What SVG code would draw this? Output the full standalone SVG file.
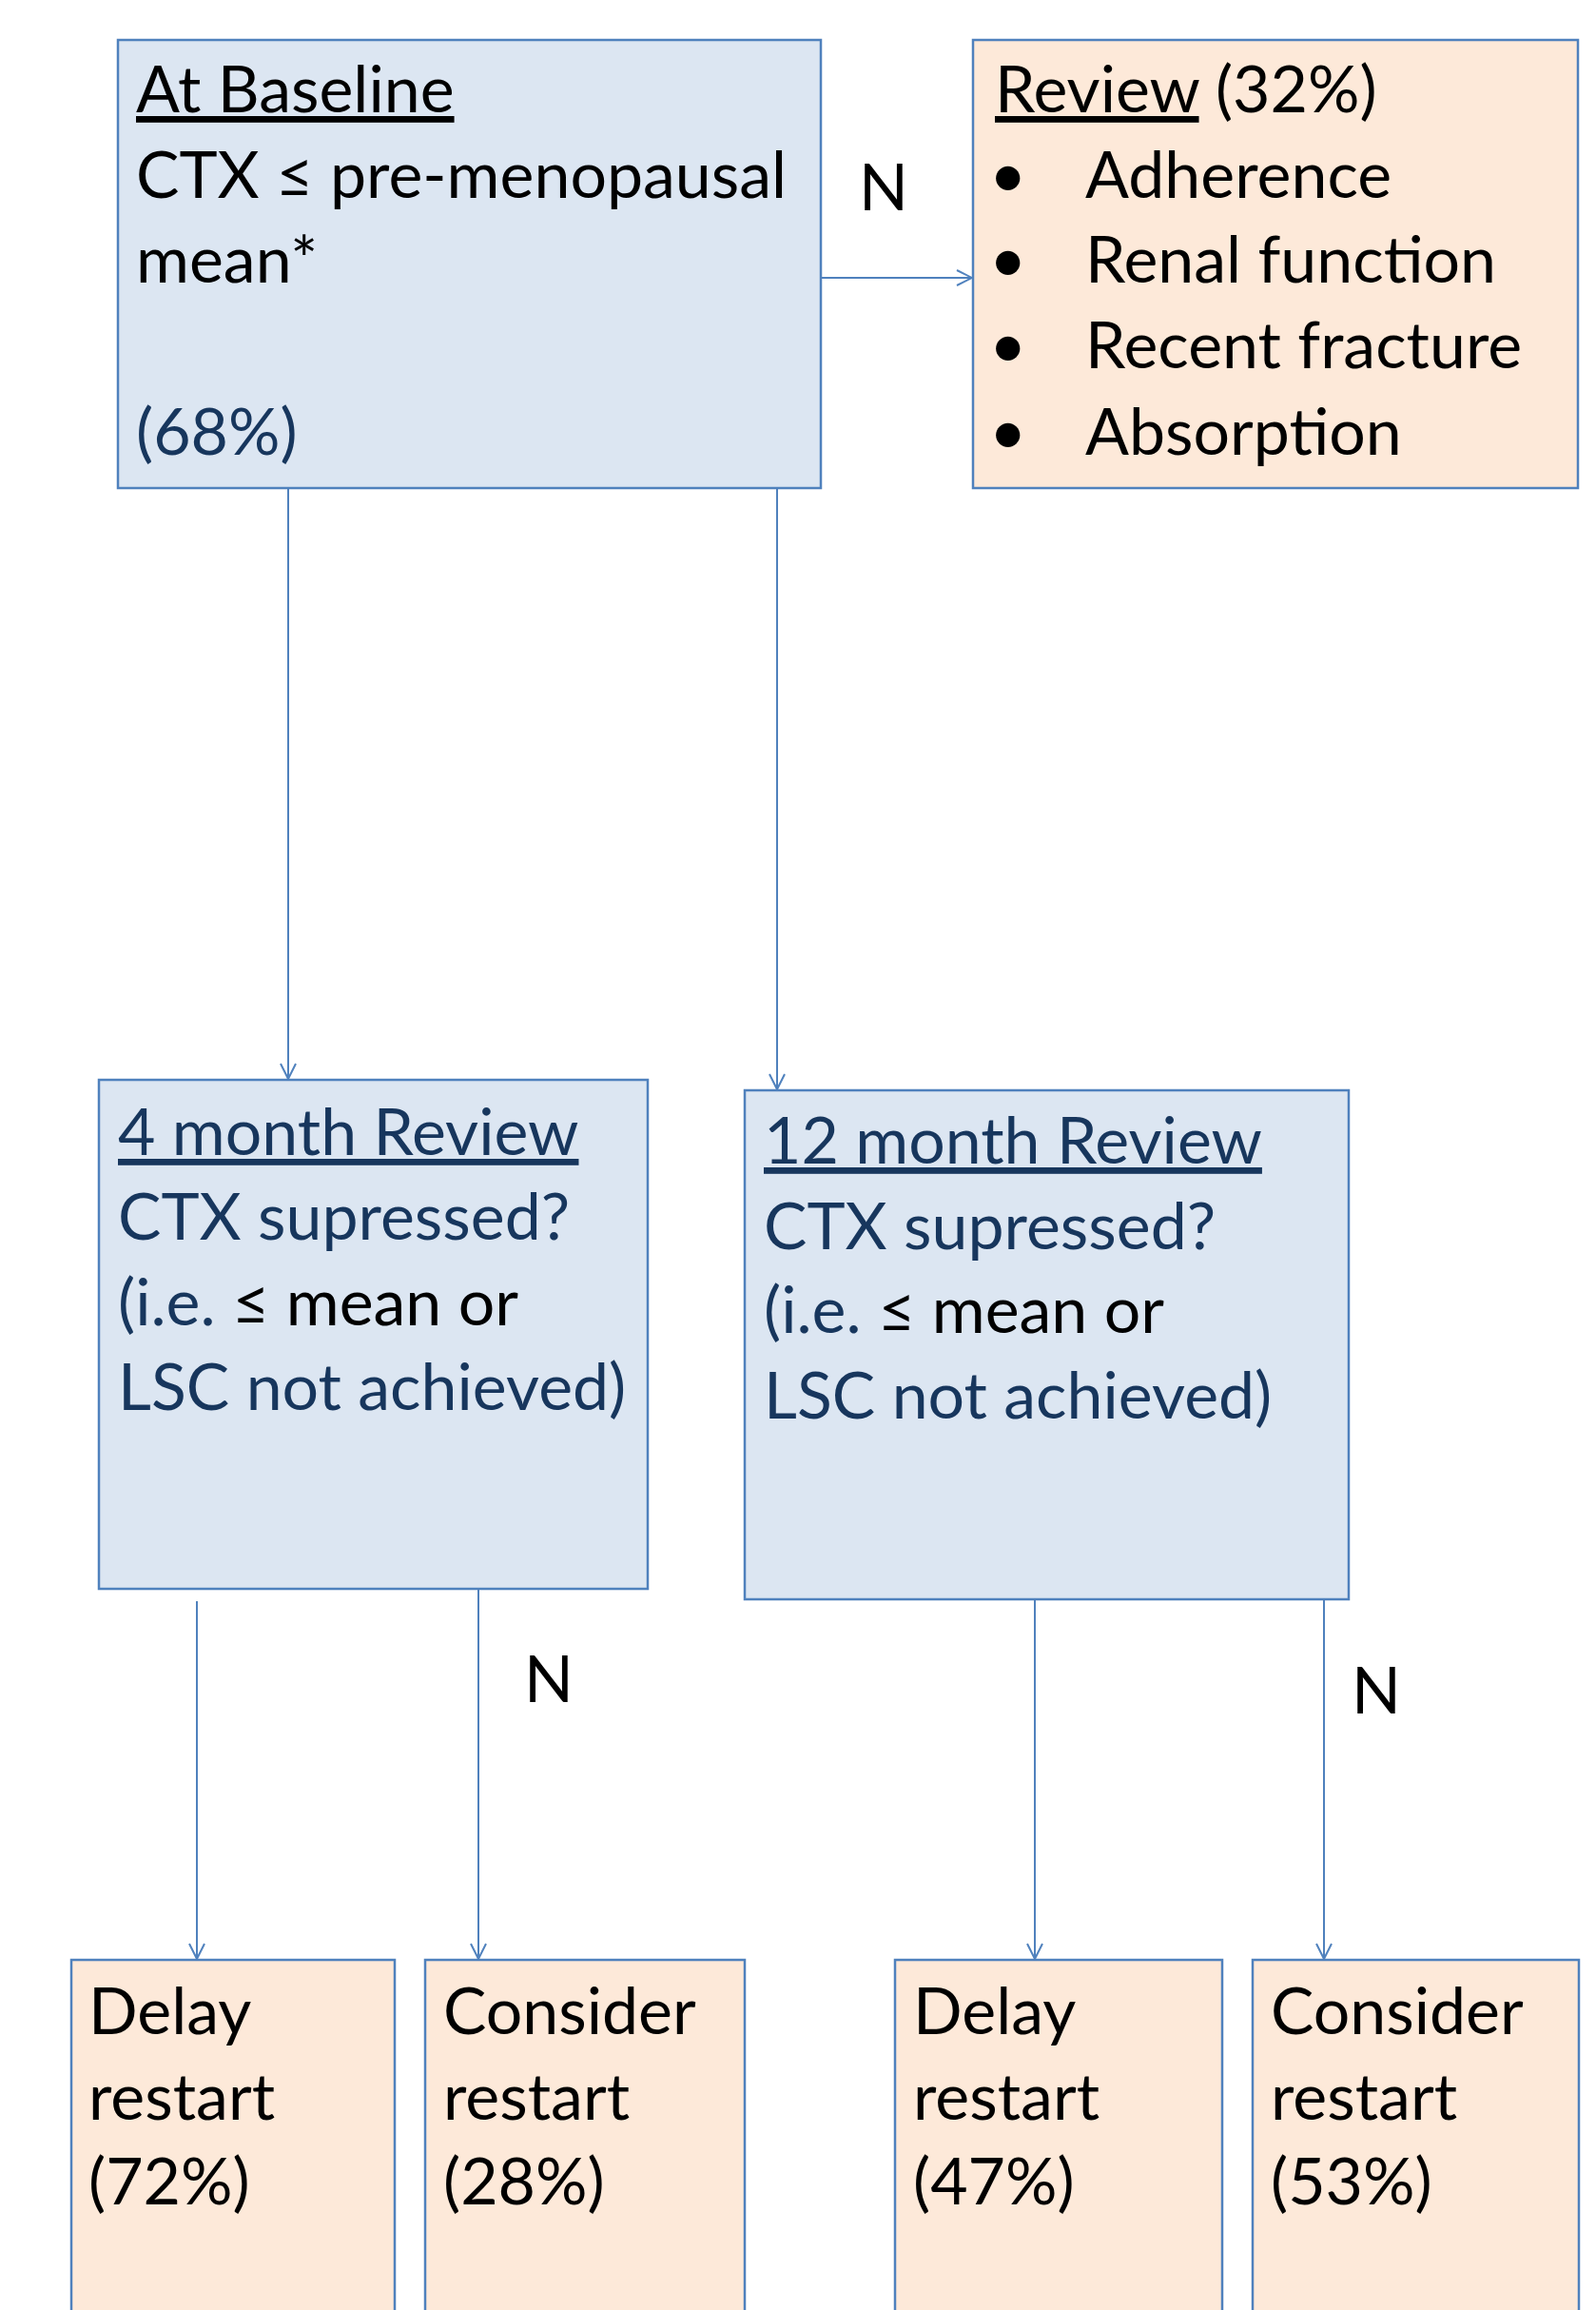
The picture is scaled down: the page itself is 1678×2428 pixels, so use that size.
<svg xmlns="http://www.w3.org/2000/svg" width="1678" height="2428" viewBox="0 0 1678 2428">
<style>
.blue{fill:#DCE6F2;stroke:#4F81BD;stroke-width:2.5}
.peach{fill:#FDE9D9;stroke:#4F81BD;stroke-width:2.5}
text{font-family:Lato,"Open Sans",sans-serif;font-size:68px;fill:#000}
.navy{fill:#17365D}
.u{text-decoration:underline}
.lbl{text-anchor:middle}
.conn line{stroke:#4F81BD;stroke-width:2}
</style>
<defs>
<marker id="arr" viewBox="0 0 18 18" refX="17" refY="9" markerWidth="18" markerHeight="18" markerUnits="userSpaceOnUse" orient="auto">
<path d="M1,1 L17,9 L1,17" fill="none" stroke="#4F81BD" stroke-width="2"/>
</marker>
</defs>
<rect width="1678" height="2428" fill="#fff"/>
<g id="connectors" class="conn">
<line x1="863" y1="292" x2="1022" y2="292" marker-end="url(#arr)"/>
<line x1="303" y1="513" x2="303" y2="1134" marker-end="url(#arr)"/>
<line x1="817" y1="513" x2="817" y2="1145" marker-end="url(#arr)"/>
<line x1="207" y1="1683" x2="207" y2="2059" marker-end="url(#arr)"/>
<line x1="503" y1="1670" x2="503" y2="2059" marker-end="url(#arr)"/>
<line x1="1088" y1="1682" x2="1088" y2="2059" marker-end="url(#arr)"/>
<line x1="1392" y1="1682" x2="1392" y2="2059" marker-end="url(#arr)"/>
<text class="lbl" x="929" y="221">N</text>
<text class="lbl" x="577" y="1789">N</text>
<text class="lbl" x="1447" y="1801">N</text>
</g>
<g id="baseline">
<rect class="blue" x="124" y="42" width="739" height="471"/>
<text x="143" y="118" class="u">At Baseline</text>
<text x="143" y="208">CTX ≤ pre-menopausal</text>
<text x="143" y="297">mean*</text>
<text x="143" y="478" class="navy">(68%)</text>
</g>
<g id="review">
<rect class="peach" x="1023" y="42" width="636" height="471"/>
<text x="1046" y="118"><tspan class="u">Review</tspan> (32%)</text>
<text x="1040" y="208">•</text><text x="1141" y="208">Adherence</text>
<text x="1040" y="297">•</text><text x="1141" y="297">Renal function</text>
<text x="1040" y="387">•</text><text x="1141" y="387">Recent fracture</text>
<text x="1040" y="478">•</text><text x="1141" y="478">Absorption</text>
</g>
<g id="month4">
<rect class="blue" x="104" y="1135" width="577" height="535"/>
<text x="124" y="1214" class="navy u">4 month Review</text>
<text x="124" y="1303" class="navy">CTX supressed?</text>
<text x="124" y="1393"><tspan class="navy">(i.e. </tspan>≤ mean or</text>
<text x="124" y="1482" class="navy">LSC not achieved)</text>
</g>
<g id="month12">
<rect class="blue" x="783" y="1146" width="635" height="535"/>
<text x="803" y="1223" class="navy u">12 month Review</text>
<text x="803" y="1313" class="navy">CTX supressed?</text>
<text x="803" y="1401"><tspan class="navy">(i.e. </tspan>≤ mean or</text>
<text x="803" y="1491" class="navy">LSC not achieved)</text>
</g>
<g id="delay4">
<rect class="peach" x="75" y="2060" width="340" height="400"/>
<text x="93" y="2138">Delay</text>
<text x="93" y="2228">restart</text>
<text x="93" y="2317">(72%)</text>
</g>
<g id="consider4">
<rect class="peach" x="447" y="2060" width="336" height="400"/>
<text x="466" y="2138">Consider</text>
<text x="466" y="2228">restart</text>
<text x="466" y="2317">(28%)</text>
</g>
<g id="delay12">
<rect class="peach" x="941" y="2060" width="344" height="400"/>
<text x="960" y="2138">Delay</text>
<text x="960" y="2228">restart</text>
<text x="960" y="2317">(47%)</text>
</g>
<g id="consider12">
<rect class="peach" x="1317" y="2060" width="343" height="400"/>
<text x="1336" y="2138">Consider</text>
<text x="1336" y="2228">restart</text>
<text x="1336" y="2317">(53%)</text>
</g>
</svg>
